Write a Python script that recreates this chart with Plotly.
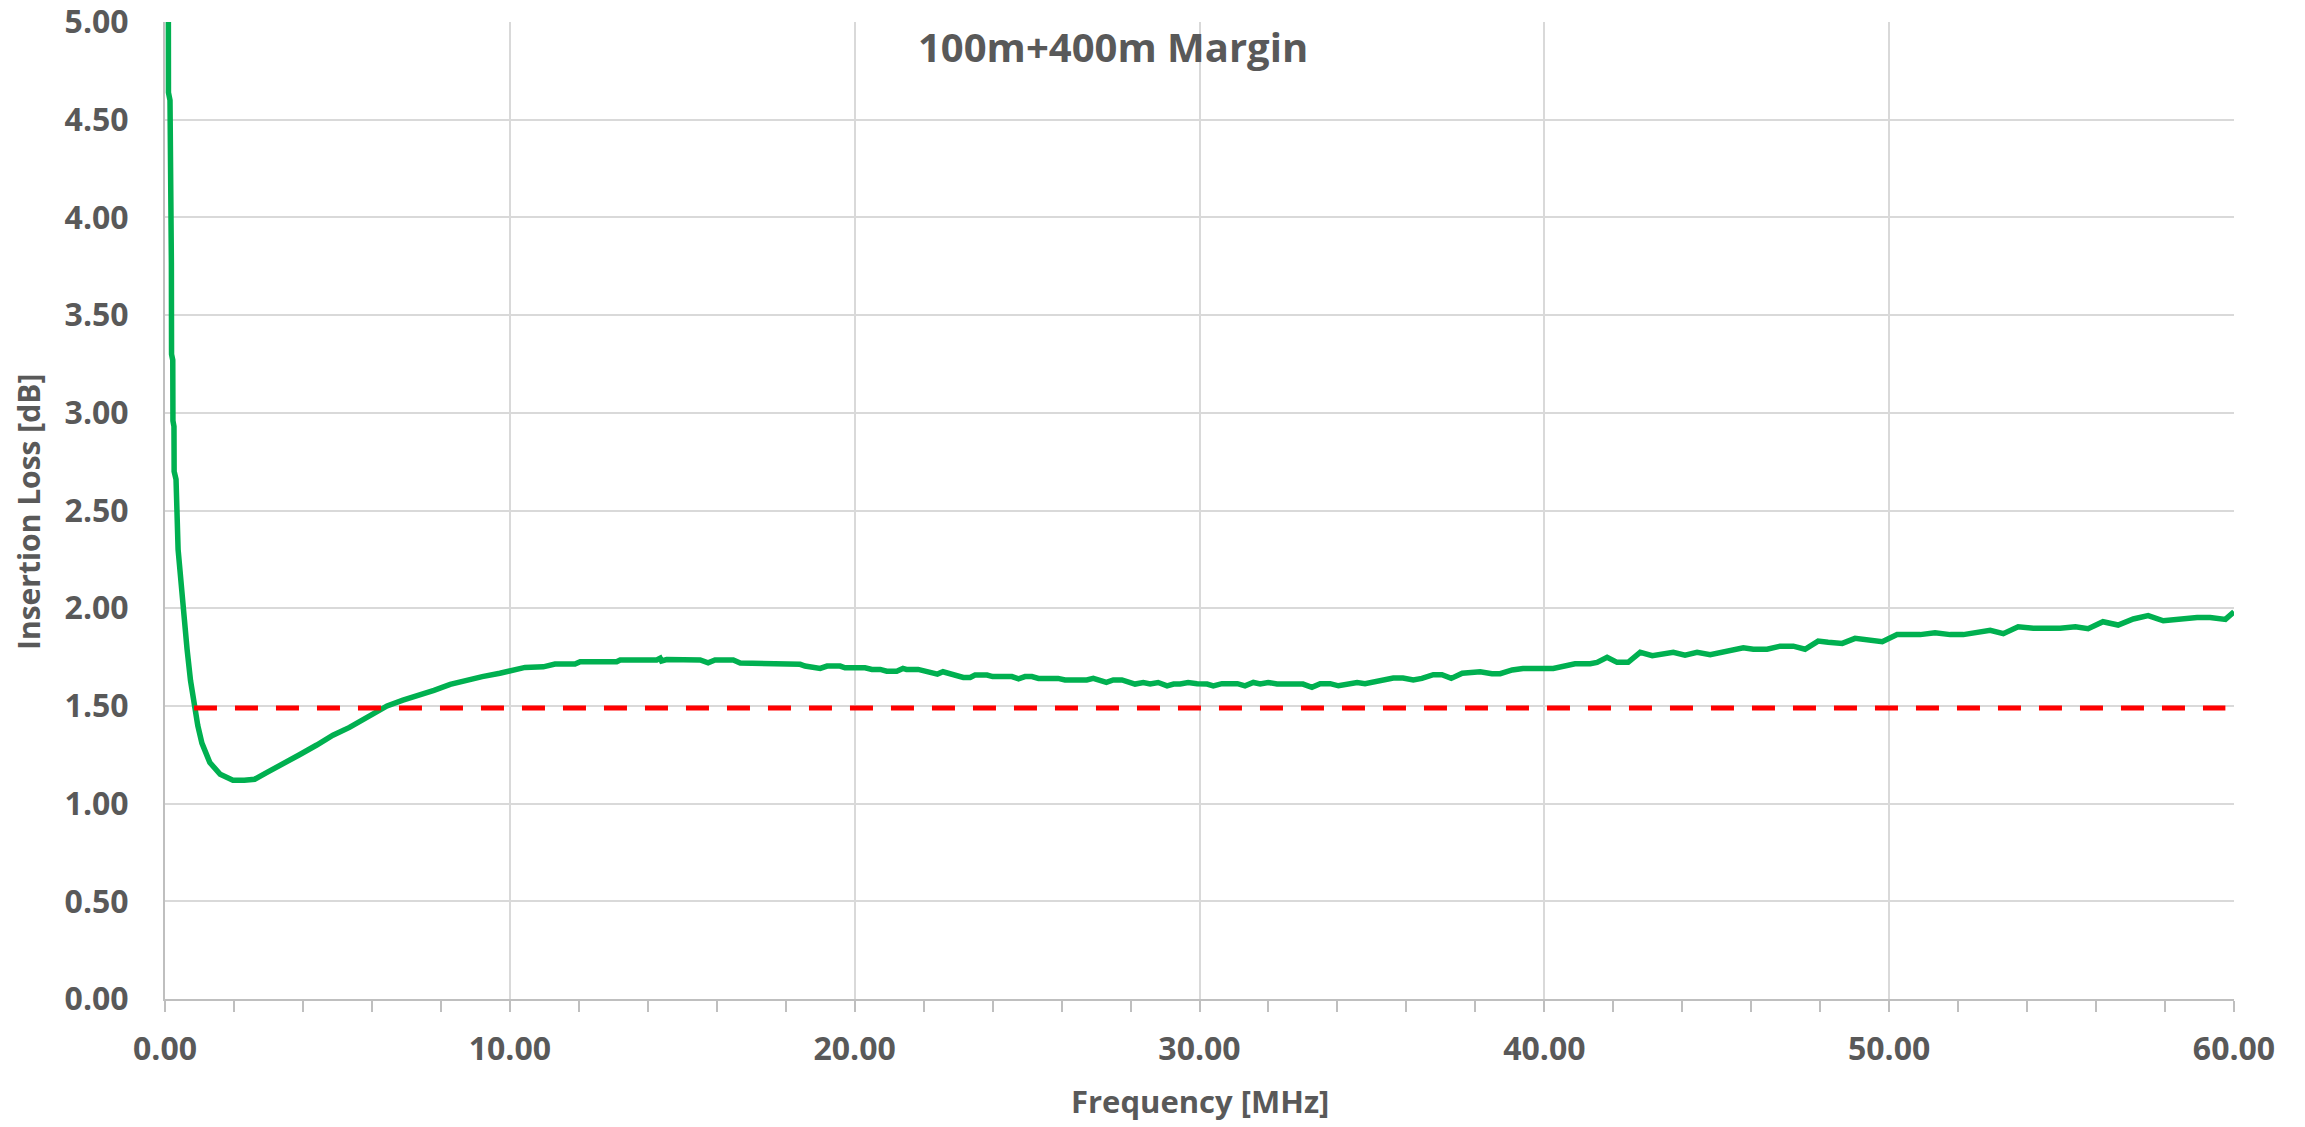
import plotly.graph_objects as go

# ---------------- data ----------------
freq_mhz = [
    0.096, 0.10, 0.145, 0.148, 0.185, 0.19, 0.225, 0.23, 0.26, 0.265, 0.32, 0.38, 0.45, 0.52, 0.64, 0.74,
    0.84, 0.95, 1.07, 1.30, 1.60, 1.97, 2.30, 2.60, 2.96, 3.40, 3.90, 4.40, 4.87, 5.35, 5.85,
    6.44, 6.90, 7.30, 7.80, 8.27, 8.70, 9.20, 9.71,
    10.44, 10.97, 11.31, 11.89, 12.04, 13.10, 13.20, 14.26, 14.36, 14.40, 14.55, 15.52, 15.75,
    15.95, 16.48, 16.68, 17.45, 17.60, 18.42, 18.56, 18.85, 19.00, 19.20, 19.58, 19.72, 20.30,
    20.50, 20.74, 20.93, 21.22, 21.40, 21.50, 21.84, 22.10, 22.40, 22.56, 22.86, 23.15, 23.35,
    23.49, 23.84, 24.00, 24.56, 24.75, 24.94, 25.14, 25.33, 25.90, 26.10, 26.73, 26.92, 27.30,
    27.50, 27.75, 28.13, 28.37, 28.57, 28.80, 29.06, 29.25, 29.44, 29.67, 29.93, 30.22, 30.40,
    30.65, 31.10, 31.32, 31.56, 31.76, 31.99, 32.25, 33.00, 33.26, 33.50, 33.79, 34.03, 34.28,
    34.57, 34.80, 35.15, 35.62, 35.90, 36.20, 36.45, 36.78, 37.03, 37.30, 37.62, 37.90, 38.14,
    38.48, 38.72, 39.07, 39.38, 40.26, 40.55, 40.89, 41.33, 41.53, 41.82, 42.11, 42.43, 42.78,
    43.13, 43.74, 44.08, 44.43, 44.81, 45.39, 45.77, 46.06, 46.46, 46.84, 47.22, 47.56, 47.94,
    48.23, 48.64, 49.01, 49.80, 50.23, 50.90, 51.33, 51.77, 52.15, 52.55, 52.93, 53.31, 53.74,
    54.18, 54.96, 55.40, 55.77, 56.20, 56.64, 57.08, 57.51, 57.95, 58.44, 58.93, 59.31, 59.75,
    60.00,
]
insertion_loss_db = [
    5.30, 4.64, 4.60, 3.80, 3.77, 3.30, 3.27, 2.96, 2.93, 2.70, 2.66, 2.30, 2.15, 1.99, 1.79, 1.63,
    1.50, 1.40, 1.31, 1.21, 1.15, 1.12, 1.12, 1.125, 1.16, 1.20, 1.25, 1.30, 1.35, 1.39, 1.44,
    1.50, 1.53, 1.55, 1.58, 1.61, 1.63, 1.65, 1.667,
    1.697, 1.700, 1.714, 1.714, 1.726, 1.726, 1.735, 1.735, 1.744, 1.730, 1.737, 1.735, 1.721,
    1.735, 1.735, 1.720, 1.720, 1.713, 1.713, 1.704, 1.700, 1.692, 1.704, 1.704, 1.695, 1.695,
    1.687, 1.687, 1.678, 1.678, 1.692, 1.687, 1.687, 1.675, 1.663, 1.675, 1.663, 1.646, 1.646,
    1.658, 1.658, 1.650, 1.650, 1.639, 1.650, 1.650, 1.641, 1.641, 1.633, 1.633, 1.641, 1.621,
    1.633, 1.633, 1.612, 1.620, 1.612, 1.620, 1.603, 1.612, 1.612, 1.620, 1.614, 1.612, 1.603,
    1.614, 1.614, 1.603, 1.620, 1.612, 1.620, 1.612, 1.612, 1.595, 1.614, 1.614, 1.603, 1.612,
    1.620, 1.614, 1.624, 1.643, 1.643, 1.633, 1.641, 1.660, 1.660, 1.641, 1.667, 1.675, 1.675,
    1.665, 1.665, 1.684, 1.692, 1.692, 1.700, 1.716, 1.716, 1.723, 1.749, 1.723, 1.723, 1.774,
    1.757, 1.774, 1.760, 1.774, 1.762, 1.783, 1.798, 1.790, 1.790, 1.806, 1.806, 1.790, 1.832,
    1.826, 1.820, 1.846, 1.829, 1.865, 1.865, 1.875, 1.865, 1.865, 1.873, 1.887, 1.870, 1.905,
    1.897, 1.897, 1.905, 1.895, 1.931, 1.914, 1.945, 1.962, 1.936, 1.945, 1.953, 1.953, 1.943,
    1.982,
]
limit_freq_mhz = [0.84, 59.75]
limit_db = [1.49, 1.49]

x_tick_vals = [0, 10, 20, 30, 40, 50, 60]
x_tick_text = ["0.00", "10.00", "20.00", "30.00", "40.00", "50.00", "60.00"]
y_tick_vals = [0, 0.5, 1, 1.5, 2, 2.5, 3, 3.5, 4, 4.5, 5]
y_tick_text = ["0.00", "0.50", "1.00", "1.50", "2.00", "2.50", "3.00", "3.50", "4.00", "4.50", "5.00"]

title_text = "100m+400m Margin"
x_title = "Frequency [MHz]"
y_title = "Insertion Loss [dB]"

# ---------------- figure ----------------
FONT = "Open Sans"
GREY = "#595959"

fig = go.Figure()
fig.add_trace(go.Scatter(
    x=freq_mhz, y=insertion_loss_db, mode="lines",
    line=dict(color="#00B050", width=5.5),
    showlegend=False, hoverinfo="skip",
))
fig.add_trace(go.Scatter(
    x=limit_freq_mhz, y=limit_db, mode="lines",
    line=dict(color="#FF0000", width=5, dash="23px,18px"),
    showlegend=False, hoverinfo="skip",
))

L, R, T, B = 165, 71, 22, 128
W, H = 2305, 1127
pw, ph = W - L - R, H - T - B


def px_x(p):
    return (p - L) / pw


def px_y(p):
    return (H - B - p) / ph


fig.update_layout(
    width=W, height=H,
    margin=dict(l=L, r=R, t=T, b=B, pad=0),
    paper_bgcolor="white", plot_bgcolor="white",
    font=dict(family=FONT, color=GREY),
    annotations=[
        dict(text=f"<b>{title_text}</b>", x=px_x(1113), y=px_y(47),
             xref="paper", yref="paper", showarrow=False,
             font=dict(size=40, color=GREY, family=FONT),
             xanchor="center", yanchor="middle"),
        dict(text=f"<b>{x_title}</b>", x=px_x(1200), y=px_y(1101),
             xref="paper", yref="paper", showarrow=False,
             font=dict(size=31, color=GREY, family=FONT),
             xanchor="center", yanchor="middle"),
        dict(text=f"<b>{y_title}</b>", x=px_x(28), y=px_y(512),
             xref="paper", yref="paper", showarrow=False, textangle=-90,
             font=dict(size=30, color=GREY, family=FONT),
             xanchor="center", yanchor="middle"),
    ],
)

fig.update_xaxes(
    range=[0, 60], tickvals=x_tick_vals, ticktext=x_tick_text,
    showgrid=True, gridcolor="#D9D9D9", gridwidth=2,
    showline=True, linecolor="#BFBFBF", linewidth=2,
    ticks="outside", ticklen=11, tickwidth=2, tickcolor="#BFBFBF",
    minor=dict(dtick=2, ticks="outside", ticklen=11, tickwidth=2, tickcolor="#BFBFBF", showgrid=False),
    tickfont=dict(size=32, family=FONT, color=GREY, weight="bold"),
    ticklabelstandoff=10, ticklabeloverflow="allow",
    zeroline=False, automargin=False,
)
fig.update_yaxes(
    range=[0, 5.0005], tickvals=y_tick_vals, ticktext=y_tick_text,
    showgrid=True, gridcolor="#D9D9D9", gridwidth=2,
    showline=True, linecolor="#BFBFBF", linewidth=2,
    ticks="", tickfont=dict(size=32, family=FONT, color=GREY, weight="bold"),
    ticklabelstandoff=28, ticklabeloverflow="allow",
    zeroline=False, automargin=False,
)

fig.write_html("out.html")
